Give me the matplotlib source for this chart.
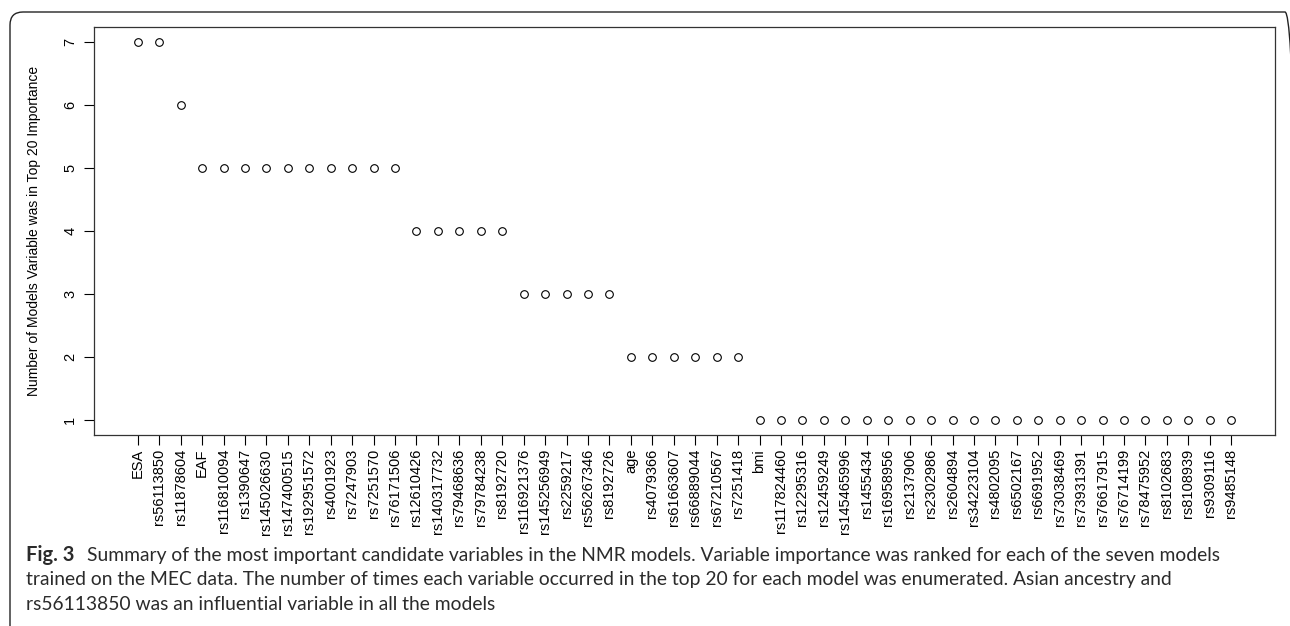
import numpy as np
import matplotlib.pyplot as plt
from matplotlib.patches import FancyBboxPatch

# variable names, in plotted order
variables = ['ESA', 'rs56113850', 'rs11878604', 'EAF', 'rs116810094', 'rs1390647',
             'rs145026630', 'rs147400515', 'rs192951572', 'rs4001923', 'rs7247903',
             'rs7251570', 'rs76171506', 'rs12610426', 'rs140317732', 'rs79468636',
             'rs79784238', 'rs8192720', 'rs116921376', 'rs145256949', 'rs2259217',
             'rs56267346', 'rs8192726', 'age', 'rs4079366', 'rs61663607', 'rs66889044',
             'rs67210567', 'rs7251418', 'bmi', 'rs117824460', 'rs12295316', 'rs12459249',
             'rs145465996', 'rs1455434', 'rs16958956', 'rs2137906', 'rs2302986',
             'rs2604894', 'rs34223104', 'rs4802095', 'rs6502167', 'rs6691952',
             'rs73038469', 'rs73931391', 'rs76617915', 'rs76714199', 'rs78475952',
             'rs8102683', 'rs8108939', 'rs9309116', 'rs9485148']

# number of models where variable was in top 20
counts = [7, 7, 6, 5, 5, 5, 5, 5, 5, 5, 5, 5, 5, 4, 4, 4, 4, 4, 3, 3, 3, 3, 3,
          2, 2, 2, 2, 2, 2, 1, 1, 1, 1, 1, 1, 1, 1, 1, 1, 1, 1, 1, 1, 1, 1, 1,
          1, 1, 1, 1, 1, 1]

y_ticks = [1, 2, 3, 4, 5, 6, 7]

plt.rcParams['font.family'] = ['Liberation Sans', 'DejaVu Sans']

fig = plt.figure(figsize=(12.9, 6.26), dpi=100)

# rounded frame in inches (only top and left edges fall inside the image)
frame = FancyBboxPatch((0.10, -0.5), 12.88, 6.64,
                       boxstyle='round,pad=0,rounding_size=0.13',
                       transform=fig.dpi_scale_trans, fill=False,
                       edgecolor='#222222', linewidth=1.0)
fig.patches.append(frame)

ax = fig.add_axes([94 / 1290, 1 - 435 / 626, (1275 - 94) / 1290, (435 - 27) / 626])

x = np.arange(1, len(variables) + 1)
ax.plot(x, counts, linestyle='none', marker='o', markersize=5.5,
        markerfacecolor='none', markeredgecolor='black', markeredgewidth=0.8)

ax.set_xlim(1 - 0.04 * (len(variables) - 1), len(variables) + 0.04 * (len(variables) - 1))
ax.set_ylim(1 - 0.24, 7 + 0.24)

ax.set_xticks(x)
ax.set_xticklabels(variables, rotation=90, fontsize=10.5)
ax.set_yticks(y_ticks)
ax.set_yticklabels([str(v) for v in y_ticks], rotation=90, va='center', fontsize=10.5)
ax.tick_params(axis='both', direction='out', length=7, width=0.8, colors='black')
ax.tick_params(axis='x', pad=3)
ax.tick_params(axis='y', pad=5)

for s in ax.spines.values():
    s.set_linewidth(0.9)
    s.set_color('#333333')

ax.set_ylabel('Number of Models Variable was in Top 20 Importance', fontsize=10, labelpad=16)

# caption
cap_font = ['Lato', 'DejaVu Sans']
fig.text(26 / 1290, 1 - 555 / 626, 'Fig. 3', fontsize=14.5, fontweight='bold',
         family=cap_font, color='#2b2b2b', va='center')
fig.text(87 / 1290, 1 - 555 / 626,
         'Summary of the most important candidate variables in the NMR models. '
         'Variable importance was ranked for each of the seven models',
         fontsize=13.9, family=cap_font, color='#2b2b2b', va='center')
fig.text(26 / 1290, 1 - 580 / 626,
         'trained on the MEC data. The number of times each variable occurred in the top 20 '
         'for each model was enumerated. Asian ancestry and',
         fontsize=13.9, family=cap_font, color='#2b2b2b', va='center')
fig.text(26 / 1290, 1 - 604 / 626,
         'rs56113850 was an influential variable in all the models',
         fontsize=13.9, family=cap_font, color='#2b2b2b', va='center')

plt.savefig('out.png', dpi=100)
